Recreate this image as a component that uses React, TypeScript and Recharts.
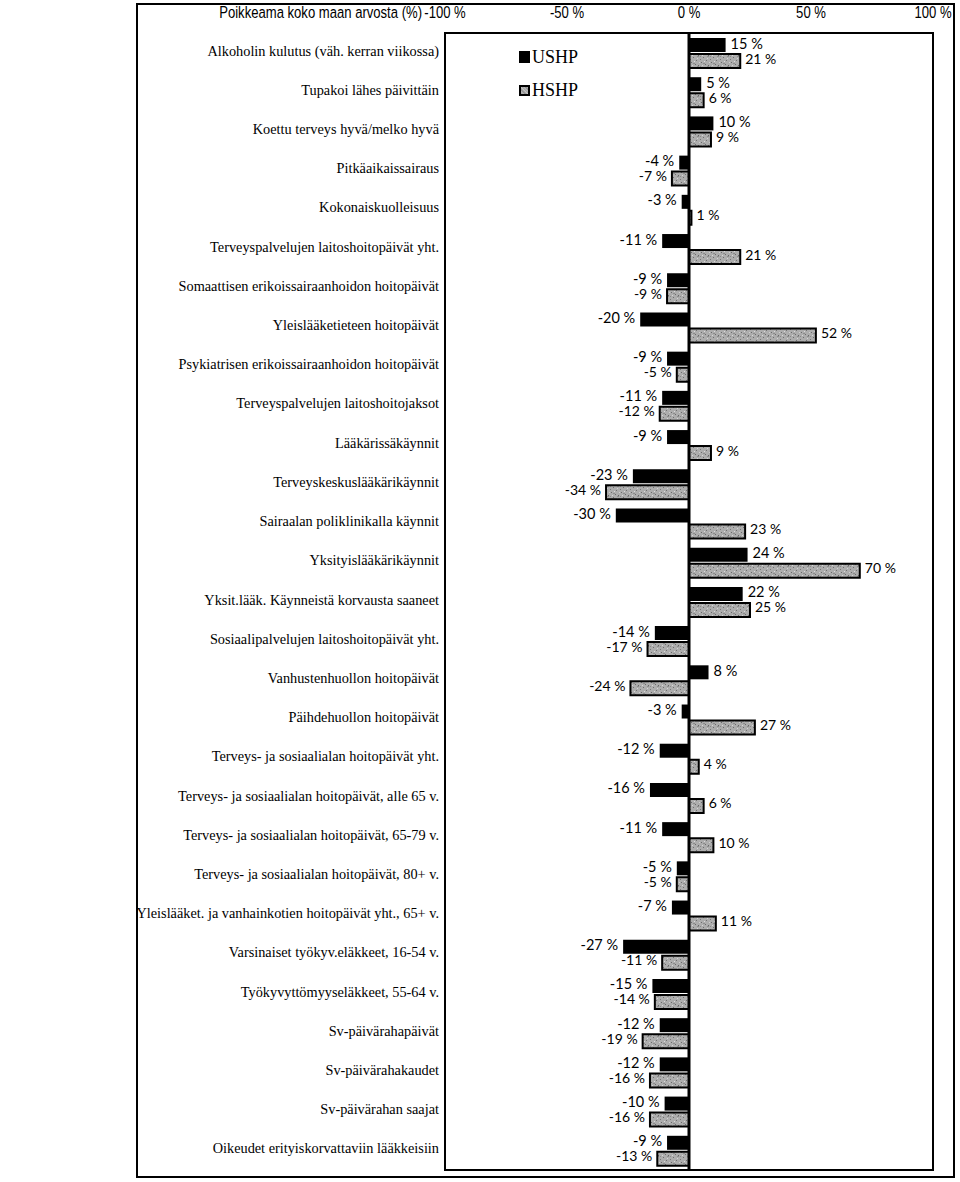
import React from 'react';
import { BarChart, Bar, XAxis, YAxis, Legend, LabelList, ReferenceLine, ReferenceArea } from 'recharts';

const categories = [
    'Alkoholin kulutus (väh. kerran viikossa)',
    'Tupakoi lähes päivittäin',
    'Koettu terveys hyvä/melko hyvä',
    'Pitkäaikaissairaus',
    'Kokonaiskuolleisuus',
    'Terveyspalvelujen laitoshoitopäivät yht.',
    'Somaattisen erikoissairaanhoidon hoitopäivät',
    'Yleislääketieteen hoitopäivät',
    'Psykiatrisen erikoissairaanhoidon hoitopäivät',
    'Terveyspalvelujen laitoshoitojaksot',
    'Lääkärissäkäynnit',
    'Terveyskeskuslääkärikäynnit',
    'Sairaalan poliklinikalla käynnit',
    'Yksityislääkärikäynnit',
    'Yksit.lääk. Käynneistä korvausta saaneet',
    'Sosiaalipalvelujen laitoshoitopäivät yht.',
    'Vanhustenhuollon hoitopäivät',
    'Päihdehuollon hoitopäivät',
    'Terveys- ja sosiaalialan hoitopäivät yht.',
    'Terveys- ja sosiaalialan hoitopäivät, alle 65 v.',
    'Terveys- ja sosiaalialan hoitopäivät, 65-79 v.',
    'Terveys- ja sosiaalialan hoitopäivät, 80+ v.',
    'Yleislääket. ja vanhainkotien hoitopäivät yht., 65+ v.',
    'Varsinaiset työkyv.eläkkeet, 16-54 v.',
    'Työkyvyttömyyseläkkeet, 55-64 v.',
    'Sv-päivärahapäivät',
    'Sv-päivärahakaudet',
    'Sv-päivärahan saajat',
    'Oikeudet erityiskorvattaviin lääkkeisiin',
];

const ushp = [15, 5, 10, -4, -3, -11, -9, -20, -9, -11, -9, -23, -30, 24, 22, -14, 8, -3, -12, -16, -11, -5, -7, -27, -15, -12, -12, -10, -9];
const hshp = [21, 6, 9, -7, 1, 21, -9, 52, -5, -12, 9, -34, 23, 70, 25, -17, -24, 27, 4, 6, 10, -5, 11, -11, -14, -19, -16, -16, -13];

const xTicks = [-100, -50, 0, 50, 100];
const axisTitle = 'Poikkeama koko maan arvosta (%)';

const data = categories.map((name, i) => ({ name, USHP: ushp[i], HSHP: hshp[i] }));

const sans = "'Liberation Sans', Arial, sans-serif";
const serif = "'Liberation Serif', 'Times New Roman', serif";
const labelFont = "Lato, 'Open Sans', sans-serif";

// no narrow font installed, so squeeze Liberation Sans horizontally
const TopTick = (props: any) => {
    const { x, y, payload } = props;
    return (
        <g>
            {payload.value === -100 && (
                <g transform={`translate(${x - 23},${y}) scale(0.77,1)`}>
                    <text x={0} y={0} textAnchor="end" fontFamily={sans} fontSize={17} fill="#000">
                        {axisTitle}
                    </text>
                </g>
            )}
            <g transform={`translate(${x},${y}) scale(0.77,1)`}>
                <text x={0} y={0} textAnchor="middle" fontFamily={sans} fontSize={17} fill="#000">
                    {payload.value} %
                </text>
            </g>
        </g>
    );
};

const CategoryTick = (props: any) => {
    const { x, y, payload } = props;
    return (
        <text x={x} y={y} dy={-2} textAnchor="end" dominantBaseline="central" fontFamily={serif} fontSize={14.3} fill="#000">
            {payload.value}
        </text>
    );
};

const makeLabel = (dy: number, size: number) => (props: any) => {
    const { x, y, width, height, value } = props;
    const x0 = Number(x);
    const x1 = x0 + Number(width);
    const pos = Number(value) >= 0;
    const tx = pos ? Math.max(x0, x1) + 5 : Math.min(x0, x1) - 5;
    return (
        <text
            x={tx}
            y={Number(y) + Number(height) / 2 + dy}
            textAnchor={pos ? 'start' : 'end'}
            dominantBaseline="central"
            fontFamily={labelFont}
            fontSize={size}
            fill="#000"
        >
            {value} %
        </text>
    );
};

const swatchGray = 'repeating-linear-gradient(45deg, #9c9c9c 0px, #b8b8b8 2px, #8a8a8a 3px, #c4c4c4 5px)';

const LegendBox = () => (
    <div style={{ fontFamily: serif, fontSize: 18, color: '#000', lineHeight: '20px' }}>
        <div style={{ display: 'flex', alignItems: 'center', height: 20 }}>
            <span style={{ display: 'inline-block', width: 11, height: 12, background: '#000', marginRight: 2 }} />
            <span>USHP</span>
        </div>
        <div style={{ display: 'flex', alignItems: 'center', height: 20, marginTop: 13 }}>
            <span style={{ display: 'inline-block', width: 11, height: 11, boxSizing: 'border-box', border: '2px solid #000', background: swatchGray, marginRight: 2 }} />
            <span>HSHP</span>
        </div>
    </div>
);

export default function App() {
    return (
        <div style={{ position: 'absolute', left: 0, top: 0, width: 960, height: 1182, background: '#fff' }}>
            <div
                style={{
                    position: 'absolute',
                    left: 136,
                    top: 3,
                    width: 819,
                    height: 1175,
                    border: '2px solid #000',
                    boxSizing: 'border-box',
                }}
            />
            <div style={{ position: 'absolute', left: 0, top: 0 }}>
                <BarChart
                    width={960}
                    height={1182}
                    data={data}
                    layout="vertical"
                    margin={{ top: 0, right: 27, bottom: 12, left: 0 }}
                    barSize={14}
                    barGap={2}
                >
                    <defs>
                        <pattern id="hshpTex" width="10" height="10" patternUnits="userSpaceOnUse">
                            <rect width="10" height="10" fill="#adadad" />
                            <rect x="1" y="2" width="1" height="1" fill="#6a6a6a" />
                            <rect x="6" y="0" width="1" height="1" fill="#707070" />
                            <rect x="8" y="5" width="1" height="1" fill="#666" />
                            <rect x="3" y="7" width="1" height="1" fill="#6e6e6e" />
                            <rect x="0" y="9" width="1" height="1" fill="#757575" />
                            <rect x="5" y="4" width="1" height="1" fill="#6c6c6c" />
                            <rect x="2" y="5" width="1" height="1" fill="#d8d8d8" />
                            <rect x="7" y="8" width="1" height="1" fill="#d4d4d4" />
                            <rect x="4" y="1" width="1" height="1" fill="#dadada" />
                            <rect x="9" y="2" width="1" height="1" fill="#d0d0d0" />
                            <rect x="3" y="3" width="2" height="1" fill="#8c8c8c" />
                            <rect x="7" y="6" width="2" height="1" fill="#8a8a8a" />
                            <rect x="0" y="6" width="1" height="1" fill="#888" />
                        </pattern>
                    </defs>
                    <XAxis
                        type="number"
                        orientation="top"
                        domain={[-100, 100]}
                        ticks={xTicks}
                        allowDataOverflow
                        axisLine={false}
                        tickLine={false}
                        tickSize={0}
                        tickMargin={15}
                        height={33}
                        tick={<TopTick />}
                    />
                    <YAxis
                        type="category"
                        dataKey="name"
                        width={445}
                        axisLine={false}
                        tickLine={false}
                        tickSize={0}
                        tickMargin={6}
                        interval={0}
                        tick={<CategoryTick />}
                    />
                    <ReferenceArea x1={-100} x2={100} fill="none" fillOpacity={0} stroke="#000" strokeWidth={2} />
                    <Legend
                        layout="vertical"
                        align="center"
                        verticalAlign="middle"
                        content={<LegendBox />}
                        wrapperStyle={{ left: 519, top: 47, width: 'auto' }}
                    />
                    <Bar dataKey="USHP" name="USHP" fill="#000" isAnimationActive={false}>
                        <LabelList dataKey="USHP" content={makeLabel(-2, 14.5)} />
                    </Bar>
                    <Bar dataKey="HSHP" name="HSHP" fill="url(#hshpTex)" stroke="#000" strokeWidth={2} isAnimationActive={false}>
                        <LabelList dataKey="HSHP" content={makeLabel(-3, 14)} />
                    </Bar>
                    <ReferenceLine x={0} stroke="#000" strokeWidth={3} />
                </BarChart>
            </div>
        </div>
    );
}
